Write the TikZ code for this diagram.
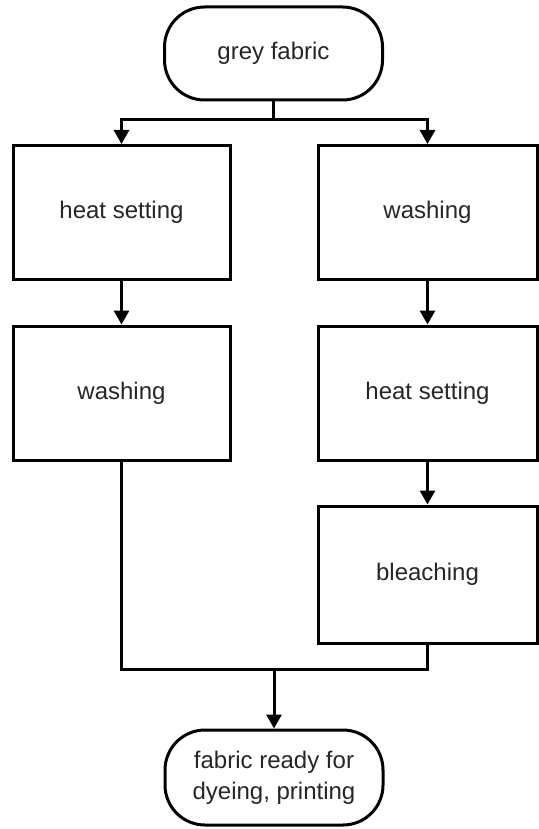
\documentclass[tikz,border=0pt]{standalone}
\usepackage{fontspec}
\setmainfont{Liberation Sans}
\usetikzlibrary{arrows.meta}
\begin{document}
\begin{tikzpicture}[x=1pt,y=-1pt,
  every node/.style={font=\fontsize{24}{31}\selectfont, text=black!85},
  stepbox/.style={draw=black, line width=3pt, minimum width=217pt, minimum height=134pt, inner sep=0pt},
  termbox/.style={draw=black, line width=3pt, rounded corners=40pt, minimum width=218pt, minimum height=93pt, align=center, inner sep=0pt},
  flow/.style={line width=3pt, -{Triangle[length=14pt,width=15pt]}},
  link/.style={line width=3pt}]
\useasboundingbox (0,0) rectangle (538,829);

% start and end terminals
\node[termbox] (start) at (273.5,53.5) {grey fabric};
\node[termbox, minimum height=95pt] (finish) at (274,777.5) {fabric ready for\\dyeing, printing};

% left branch
\node[stepbox] (lheat) at (121.5,212.5) {heat setting};
\node[stepbox] (lwash) at (121.5,393) {washing};

% right branch
\node[stepbox, minimum width=219pt] (rwash) at (427.5,212.5) {washing};
\node[stepbox, minimum width=219pt] (rheat) at (427.5,393) {heat setting};
\node[stepbox, minimum width=219pt, minimum height=137pt] (rbleach) at (427.5,574.5) {bleaching};

% split below the start terminal
\coordinate (split) at (273.5,120);
\draw[link] (start) -- (split);
\draw[flow] (split) -| (lheat.north);
\draw[flow] (split) -| (rwash.north);

% steps within each branch
\draw[flow] (lheat) -- (lwash);
\draw[flow] (rwash) -- (rheat);
\draw[flow] (rheat) -- (rbleach);

% merge into the final terminal
\coordinate (merge) at (274,669);
\draw[link] (lwash.south) |- (merge) -| (rbleach.south);
\draw[flow] (merge) -- (finish.north);
\end{tikzpicture}
\end{document}
